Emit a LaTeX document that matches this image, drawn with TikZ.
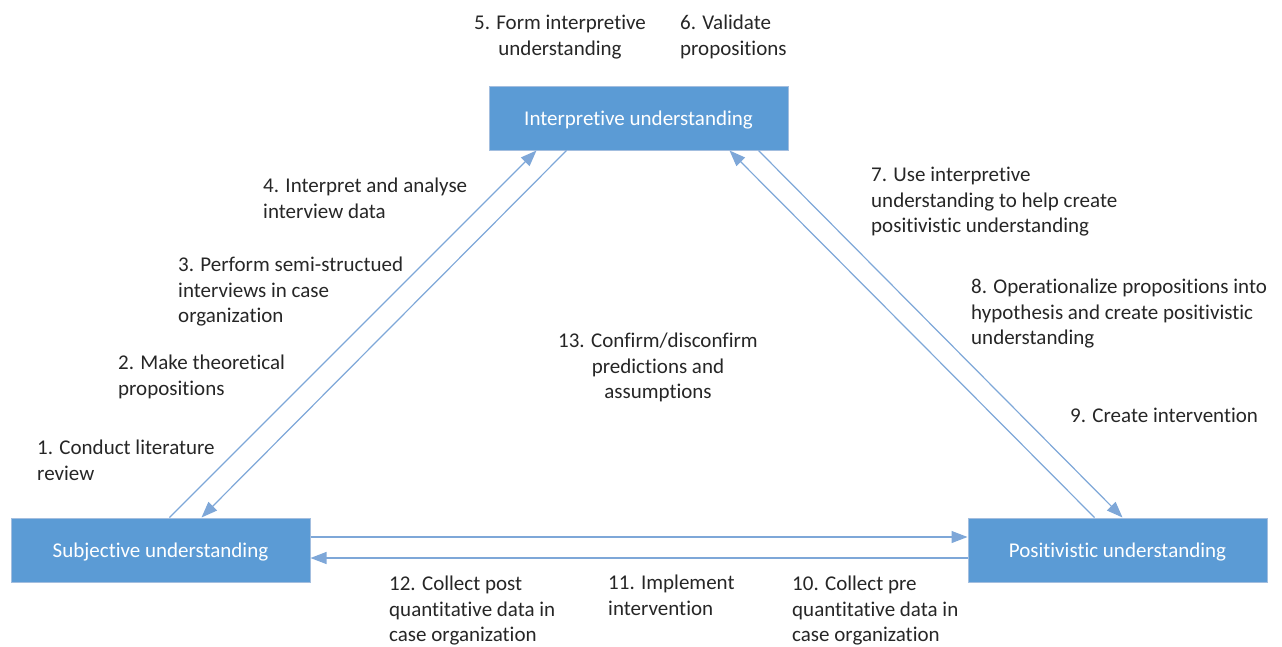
\documentclass[tikz,border=0pt]{standalone}
\usepackage{fontspec}
\setmainfont{Carlito}[Ligatures=NoCommon]
\usetikzlibrary{arrows.meta}
\definecolor{boxblue}{HTML}{5B9BD5}
\definecolor{boxedge}{HTML}{A3BEDF}
\definecolor{linkblue}{HTML}{7EA7D8}
\definecolor{txt}{HTML}{262626}
\tikzset{
  stage/.style={rectangle, fill=boxblue, draw=boxedge, line width=1pt,
    minimum width=299pt, minimum height=64pt, inner sep=0pt,
    text height=17pt, text depth=2pt,
    text=white, font=\fontsize{21}{25.5}\selectfont},
  lbl/.style={anchor=north west, inner sep=0pt, align=left, text=txt,
    font=\fontsize{21}{25.5}\selectfont},
  lblc/.style={lbl, anchor=north, align=center},
  link/.style={draw=linkblue, line width=1.2pt,
    -{Triangle[length=16pt,width=12pt]}},
}
\begin{document}
\begin{tikzpicture}[x=1pt,y=-1pt]
\useasboundingbox (0,0) rectangle (1282,646);
% boxes
\node[stage] (interp) at (638.5,118) {Interpretive understanding};
\node[stage] (subj) at (160.5,550) {Subjective understanding};
\node[stage] (pos) at (1117.5,550) {Positivistic understanding};
% connectors
\draw[link] ([xshift=159pt]subj.north west) -- ([xshift=48pt]interp.south west);
\draw[link] ([xshift=78pt]interp.south west) -- ([xshift=191pt]subj.north west);
\draw[link] ([xshift=127pt]pos.north west) -- ([xshift=241pt]interp.south west);
\draw[link] ([xshift=270pt]interp.south west) -- ([xshift=155pt]pos.north west);
\draw[link] ([yshift=13pt]subj.east) -- ([yshift=13pt]pos.west);
\draw[link] ([yshift=-8pt]pos.west) -- ([yshift=-8pt]subj.east);
% labels
\node[lblc] (l5) at (560,15) {5. Form interpretive\\understanding};
\node[lbl] (l6) at (680,15) {6. Validate\\propositions};
\node[lbl] (l4) at (263,178) {4. Interpret and analyse\\interview data};
\node[lbl] (l3) at (178,257) {3. Perform semi-structued\\interviews in case\\organization};
\node[lbl] (l2) at (118,355) {2. Make theoretical\\propositions};
\node[lbl] (l1) at (37,440) {1. Conduct literature\\review};
\node[lbl] (l7) at (871,167) {7. Use interpretive\\understanding to help create\\positivistic understanding};
\node[lbl] (l8) at (971,279) {8. Operationalize propositions into\\hypothesis and create positivistic\\understanding};
\node[lbl] (l9) at (1070,408) {9. Create intervention};
\node[lblc] (l13) at (658,333) {13. Confirm/disconfirm\\predictions and\\assumptions};
\node[lbl] (l12) at (389,576) {12. Collect post\\quantitative data in\\case organization};
\node[lbl] (l11) at (608,575) {11. Implement\\intervention};
\node[lbl] (l10) at (792,576) {10. Collect pre\\quantitative data in\\case organization};
\end{tikzpicture}
\end{document}
